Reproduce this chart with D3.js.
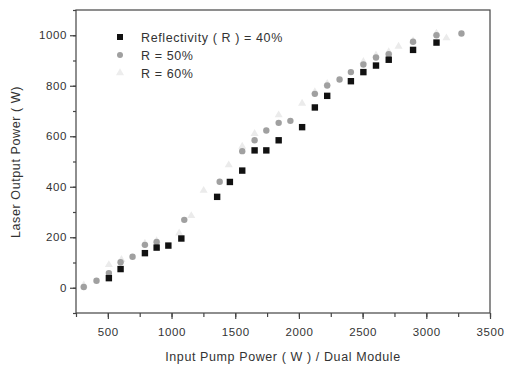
<!DOCTYPE html>
<html>
<head>
<meta charset="utf-8">
<script src="https://cdn.jsdelivr.net/npm/d3@7"></script>
<style>
  body { margin: 0; background: #fff; }
  text { font-family: "Liberation Sans", Arial, sans-serif; fill: #333; }
</style>
</head>
<body>
<div class="canva"></div>
<script>
// valores
const pump40 = [508, 600, 791, 883, 975, 1077, 1358, 1458, 1555, 1652, 1744, 1841, 2025, 2125, 2222, 2408, 2506, 2605, 2705, 2896, 3080];
const out40  = [38, 74, 137, 159, 167, 195, 360, 419, 464, 544, 544, 584, 636, 714, 760, 818, 854, 880, 903, 942, 971];

const pump50 = [311, 411, 508, 600, 694, 791, 883, 1100, 1378, 1555, 1652, 1744, 1841, 1933, 2125, 2222, 2319, 2408, 2506, 2605, 2705, 2896, 3080, 3276];
const out50  = [3, 28, 58, 101, 123, 170, 181, 269, 420, 541, 584, 623, 653, 661, 768, 801, 825, 854, 884, 912, 925, 974, 1000, 1007];

const pump60 = [311, 508, 607, 791, 883, 1060, 1155, 1252, 1449, 1555, 1652, 1841, 2025, 2125, 2222, 2506, 2605, 2705, 2782, 2896, 3080, 3158];
const out60  = [10, 91, 111, 176, 186, 216, 285, 385, 486, 560, 610, 684, 730, 776, 808, 895, 921, 934, 956, 978, 1007, 989];

const xTicks = [500, 1000, 1500, 2000, 2500, 3000, 3500];
const yTicks = [0, 200, 400, 600, 800, 1000];
const legendLabels = ["Reflectivity ( R ) = 40%", "R = 50%", "R = 60%"];

const svg = d3.select(".canva").append("svg")
  .attr("width", 505)
  .attr("height", 365);

const mLeft = 76, mRight = 490, mTop = 10, mBottom = 313;

const x = d3.scaleLinear().domain([250, 3500]).range([mLeft, mRight]);
const y = d3.scaleLinear().domain([-100, 1100]).range([mBottom, mTop]);

// marco
svg.append("rect")
  .attr("x", mLeft).attr("y", mTop)
  .attr("width", mRight - mLeft).attr("height", mBottom - mTop)
  .attr("fill", "none").attr("stroke", "#444").attr("stroke-width", 1.2);

// ticks menores
const xAxis = d3.axisBottom(x).tickValues(d3.range(250, 3501, 250)).tickSize(4).tickFormat("");
svg.append("g").attr("transform", `translate(0,${mBottom})`).call(xAxis);
const yAxis = d3.axisLeft(y).tickValues(d3.range(-100, 1101, 100)).tickSize(3).tickFormat("");
svg.append("g").attr("transform", `translate(${mLeft},0)`).call(yAxis);

// ticks mayores con etiquetas
svg.append("g").attr("transform", `translate(0,${mBottom})`)
  .call(d3.axisBottom(x).tickValues(xTicks).tickSize(6).tickPadding(9).tickFormat(d3.format("d")));
svg.append("g").attr("transform", `translate(${mLeft},0)`)
  .call(d3.axisLeft(y).tickValues(yTicks).tickSize(6).tickPadding(3).tickFormat(d3.format("d")));

svg.selectAll(".domain").remove();
svg.selectAll(".tick line").attr("stroke", "#444").attr("stroke-width", 1.2);
svg.selectAll(".tick text")
  .style("font-family", "'Liberation Sans', Arial, sans-serif")
  .style("font-size", "11.5px")
  .attr("fill", "#333")
  .style("letter-spacing", "0.6px");

// series
const sym60 = d3.symbol().type(d3.symbolTriangle).size(28);
svg.selectAll(".p60")
  .data(pump60.map((d, i) => [d, out60[i]]))
  .enter().append("path")
  .attr("class", "p60")
  .attr("d", sym60)
  .attr("transform", d => `translate(${x(d[0])},${y(d[1])})`)
  .attr("fill", "#ebebeb");

svg.selectAll(".p50")
  .data(pump50.map((d, i) => [d, out50[i]]))
  .enter().append("circle")
  .attr("class", "p50")
  .attr("cx", d => x(d[0]))
  .attr("cy", d => y(d[1]))
  .attr("r", 3.2)
  .attr("fill", "#a0a0a0");

svg.selectAll(".p40")
  .data(pump40.map((d, i) => [d, out40[i]]))
  .enter().append("rect")
  .attr("class", "p40")
  .attr("x", d => x(d[0]) - 3.2)
  .attr("y", d => y(d[1]) - 3.2)
  .attr("width", 6.4)
  .attr("height", 6.4)
  .attr("fill", "#111");

// leyenda
const lg = svg.append("g");
const legendY = [37, 55, 73];
lg.append("rect").attr("x", 117).attr("y", legendY[0] - 3).attr("width", 6).attr("height", 6).attr("fill", "#111");
lg.append("circle").attr("cx", 120).attr("cy", legendY[1]).attr("r", 3).attr("fill", "#a0a0a0");
lg.append("path").attr("d", sym60).attr("transform", `translate(120,${legendY[2]})`).attr("fill", "#ededed");
lg.selectAll(".lt")
  .data(legendLabels)
  .enter().append("text")
  .attr("x", 141)
  .attr("y", (d, i) => legendY[i] + 4.5)
  .style("font-size", "12.5px")
  .style("letter-spacing", "0.6px")
  .text(d => d);

// titulos de ejes
svg.append("text")
  .attr("x", 283).attr("y", 361)
  .attr("text-anchor", "middle")
  .style("font-size", "12.5px")
  .style("letter-spacing", "0.6px")
  .text("Input Pump Power ( W ) / Dual Module");

svg.append("text")
  .attr("transform", "translate(20,162) rotate(-90)")
  .attr("text-anchor", "middle")
  .style("font-size", "12.5px")
  .style("letter-spacing", "0.6px")
  .text("Laser Output Power ( W)");
</script>
</body>
</html>
